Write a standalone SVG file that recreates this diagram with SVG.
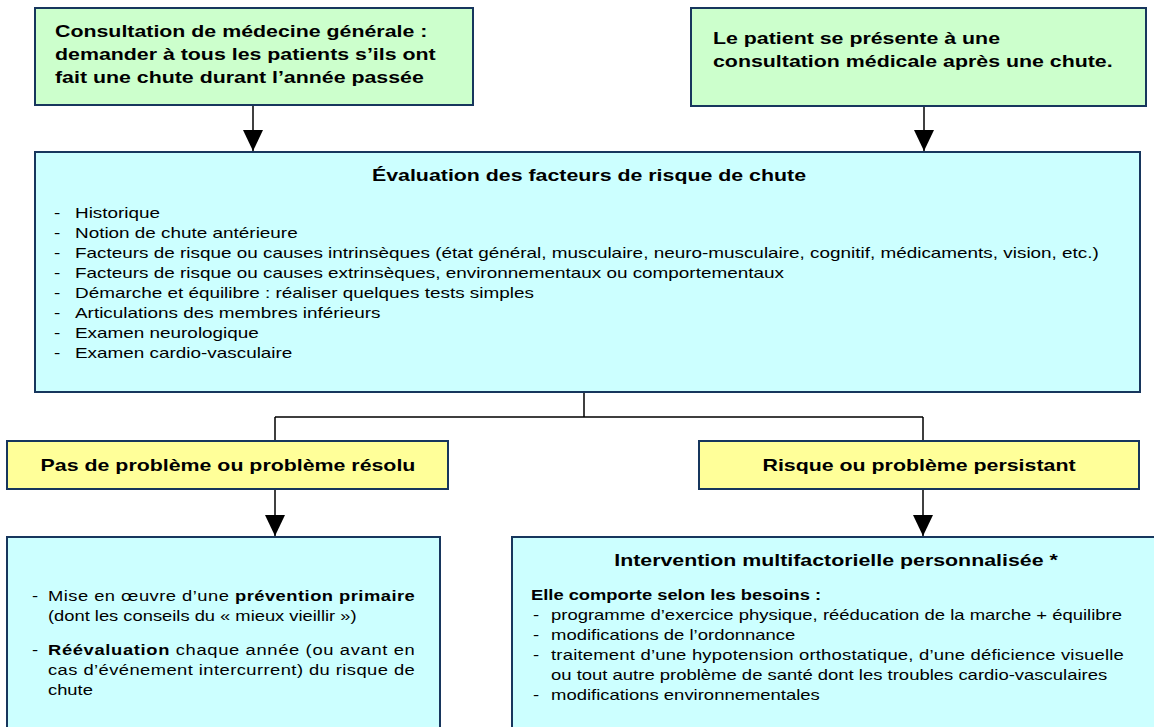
<svg xmlns="http://www.w3.org/2000/svg" width="1154" height="727" viewBox="0 0 1154 727">
<defs>
<style>
.box{stroke:#17365D;stroke-width:2}
.g{fill:#CCFFCC}.c{fill:#CCFFFF}.y{fill:#FFFF99}
.h{font-family:"Liberation Sans",Arial,sans-serif;font-weight:bold;font-size:16.3px;fill:#000}
.t{font-family:"Liberation Sans",Arial,sans-serif;font-size:14px;fill:#000}
.tb{font-family:"Liberation Sans",Arial,sans-serif;font-size:14px;font-weight:bold;fill:#000}
.ln{stroke:#000;stroke-width:1.5;fill:none}
</style>
<marker id="ah" markerWidth="21" markerHeight="20" refX="21" refY="10" orient="auto" markerUnits="userSpaceOnUse">
<path d="M0,0 L21,10 L0,20 Z" fill="#000"/>
</marker>
</defs>
<rect width="1154" height="727" fill="#fff"/>
<g id="connectors">
<path class="ln" d="M253,105 V151" marker-end="url(#ah)"/>
<path class="ln" d="M924,106 V151" marker-end="url(#ah)"/>
<path class="ln" d="M584,392 V417 M275,417 H923 M275,417 V441 M923,417 V441"/>
<path class="ln" d="M275,489 V536" marker-end="url(#ah)"/>
<path class="ln" d="M923,489 V536" marker-end="url(#ah)"/>
</g>
<g id="n1">
<rect class="box g" x="35" y="8" width="438" height="97"/>
<text class="h" transform="translate(55,37) scale(1.31,1)">Consultation de médecine générale :</text>
<text class="h" transform="translate(55,60) scale(1.31,1)">demander à tous les patients s’ils ont</text>
<text class="h" transform="translate(55,83) scale(1.31,1)">fait une chute durant l’année passée</text>
</g>
<g id="n2">
<rect class="box g" x="691" y="8" width="455" height="98"/>
<text class="h" transform="translate(713,44) scale(1.31,1)">Le patient se présente à une</text>
<text class="h" transform="translate(713,67) scale(1.31,1)">consultation médicale après une chute.</text>
</g>
<g id="n3">
<rect class="box c" x="35" y="152" width="1105" height="240"/>
<text class="h" text-anchor="middle" transform="translate(589,181) scale(1.31,1)">Évaluation des facteurs de risque de chute</text>
<g class="t">
<text transform="translate(54,218) scale(1.35,1)">-</text><text transform="translate(75,218) scale(1.35,1)">Historique</text>
<text transform="translate(54,238) scale(1.35,1)">-</text><text transform="translate(75,238) scale(1.35,1)">Notion de chute antérieure</text>
<text transform="translate(54,258) scale(1.35,1)">-</text><text transform="translate(75,258) scale(1.35,1)">Facteurs de risque ou causes intrinsèques (état général, musculaire, neuro-musculaire, cognitif, médicaments, vision, etc.)</text>
<text transform="translate(54,278) scale(1.35,1)">-</text><text transform="translate(75,278) scale(1.35,1)">Facteurs de risque ou causes extrinsèques, environnementaux ou comportementaux</text>
<text transform="translate(54,298) scale(1.35,1)">-</text><text transform="translate(75,298) scale(1.35,1)">Démarche et équilibre : réaliser quelques tests simples</text>
<text transform="translate(54,318) scale(1.35,1)">-</text><text transform="translate(75,318) scale(1.35,1)">Articulations des membres inférieurs</text>
<text transform="translate(54,338) scale(1.35,1)">-</text><text transform="translate(75,338) scale(1.35,1)">Examen neurologique</text>
<text transform="translate(54,358) scale(1.35,1)">-</text><text transform="translate(75,358) scale(1.35,1)">Examen cardio-vasculaire</text>
</g>
</g>
<g id="n4">
<rect class="box y" x="7" y="441" width="441" height="48"/>
<text class="h" text-anchor="middle" transform="translate(228,471) scale(1.31,1)">Pas de problème ou problème résolu</text>
</g>
<g id="n5">
<rect class="box y" x="699" y="441" width="440" height="48"/>
<text class="h" text-anchor="middle" transform="translate(919,471) scale(1.31,1)">Risque ou problème persistant</text>
</g>
<g id="n6">
<rect class="box c" x="7" y="537" width="433" height="200"/>
<g class="t">
<text transform="translate(32,601) scale(1.31,1)">-</text>
<text transform="translate(48,601) scale(1.31,1)" textLength="280" lengthAdjust="spacing">Mise en œuvre d’une <tspan font-weight="bold">prévention primaire</tspan></text>
<text transform="translate(48,621) scale(1.31,1)">(dont les conseils du « mieux vieillir »)</text>
<text transform="translate(32,655) scale(1.31,1)">-</text>
<text transform="translate(48,655) scale(1.31,1)" textLength="280" lengthAdjust="spacing"><tspan font-weight="bold">Réévaluation</tspan> chaque année (ou avant en</text>
<text transform="translate(48,675) scale(1.31,1)" textLength="280" lengthAdjust="spacing">cas d’événement intercurrent) du risque de</text>
<text transform="translate(48,695) scale(1.31,1)">chute</text>
</g>
</g>
<g id="n7">
<rect class="box c" x="512" y="537" width="660" height="200"/>
<text class="h" text-anchor="middle" transform="translate(836,566) scale(1.31,1)">Intervention multifactorielle personnalisée *</text>
<text class="tb" transform="translate(531,600) scale(1.31,1)">Elle comporte selon les besoins :</text>
<g class="t">
<text transform="translate(533,620) scale(1.32,1)">-</text><text transform="translate(551,620) scale(1.32,1)">programme d’exercice physique, rééducation de la marche + équilibre</text>
<text transform="translate(533,640) scale(1.32,1)">-</text><text transform="translate(551,640) scale(1.32,1)">modifications de l’ordonnance</text>
<text transform="translate(533,660) scale(1.32,1)">-</text><text transform="translate(551,660) scale(1.32,1)" textLength="434" lengthAdjust="spacing">traitement d’une hypotension orthostatique, d’une déficience visuelle</text>
<text transform="translate(551,680) scale(1.32,1)">ou tout autre problème de santé dont les troubles cardio-vasculaires</text>
<text transform="translate(533,700) scale(1.32,1)">-</text><text transform="translate(551,700) scale(1.32,1)">modifications environnementales</text>
</g>
</g>
</svg>
